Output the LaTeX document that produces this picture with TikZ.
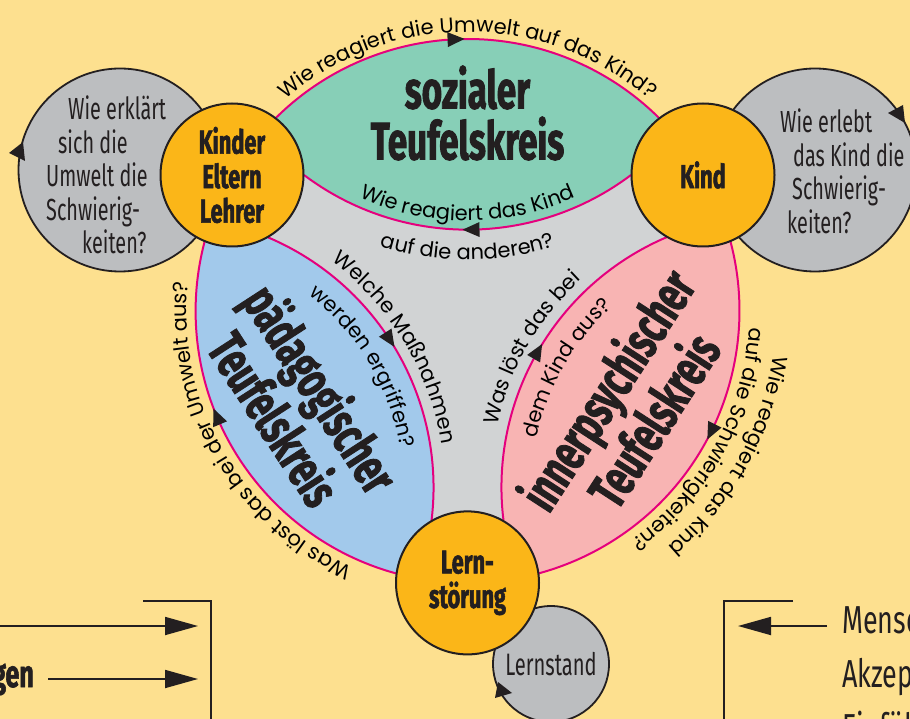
\documentclass[tikz,border=0pt]{standalone}
\usepackage{fontspec}
\usepackage{tikz}
\usetikzlibrary{arrows.meta, positioning, calc, decorations.text, decorations.markings}
\usepackage{xcolor}
\definecolor{paper}{HTML}{FDE08F}
\definecolor{socialgreen}{HTML}{87CFB7}
\definecolor{paedblue}{HTML}{A2C9EB}
\definecolor{psychpink}{HTML}{F8B4B3}
\definecolor{coregray}{HTML}{D1D3D4}
\definecolor{loopgray}{HTML}{BCBEC0}
\definecolor{huborange}{HTML}{FBB618}
\definecolor{rimmagenta}{HTML}{E5007D}
\definecolor{ink}{HTML}{231F20}

\newfontfamily\condfont{Fira Sans}[FakeStretch=0.69]
\newfontfamily\ringfont{Fira Sans}[FakeStretch=0.65]
\newfontfamily\heavyfont{Fira Sans}[FakeStretch=0.66, BoldFeatures={FakeBold=1.6}]
\newfontfamily\arcfont{Poppins}
\newcommand\arctxt{\arcfont\fontsize{21}{24}\selectfont}
\def\lensR{271.9}

\tikzset{
  hub/.style={circle, draw=ink, line width=2pt, fill=huborange, minimum size=143pt,
    inner sep=0pt, align=center, text=ink, font=\heavyfont\bfseries\fontsize{33}{34.5}\selectfont},
  sidering/.style={circle, draw=ink, line width=1.8pt, fill=loopgray, inner sep=0pt},
  ringtext/.style={inner sep=0pt, align=left, text=ink, font=\ringfont\fontsize{30.5}{33.5}\selectfont},
  bigtitle/.style={align=center, text=ink, inner sep=0pt, font=\heavyfont\bfseries\fontsize{53}{51}\selectfont},
  rim/.style={draw=rimmagenta, line width=2pt, postaction={decorate},
    decoration={markings, mark=at position #1 with {\fill[ink] (8.5pt,0pt) -- (-8.5pt,7.5pt) -- (-8.5pt,-7.5pt) -- cycle;}}},
  arctext/.style={decorate, decoration={text along path, text align=center, text={#1}}},
  sidetext/.style={inner xsep=15pt, inner ysep=0pt, text=ink, font=\condfont\fontsize{39}{54}\selectfont},
  bigarrow/.style={draw=ink, line width=1.8pt, -{Triangle[length=33pt,width=18pt]}},
  boxline/.style={draw=ink, line width=1.8pt},
}

\begin{document}
\begin{tikzpicture}[x=1pt, y=-1pt]
\fill[paper] (0,0) rectangle (910,719);
\useasboundingbox (0,0) rectangle (910,719);

\coordinate (C) at (467.5,311);
\coordinate (K1) at (232,175);
\coordinate (K2) at (703,175);
\coordinate (K3) at (467.5,582.9);
\coordinate (G1) at (304,175);
\coordinate (G2) at (631,175);
\coordinate (B1) at (268,237.35);
\coordinate (B2) at (431.5,520.55);
\coordinate (P1) at (667,237.35);
\coordinate (P2) at (503.5,520.55);
\coordinate (Gc) at (467.5,-42.3);
\coordinate (Bc) at (161.6,487.6);
\coordinate (Pc) at (773.4,487.6);

\fill[coregray] (K1) -- (K2) -- (K3) -- cycle;

\fill[socialgreen] (K1) arc[start angle=210, end angle=330, radius=\lensR] -- (G2)
  arc[start angle=53.03, end angle=126.97, radius=\lensR] -- cycle;
\fill[paedblue] (K3) arc[start angle=90, end angle=210, radius=\lensR] -- (B1)
  arc[start angle=-66.97, end angle=7.03, radius=\lensR] -- cycle;
\fill[psychpink] (K2) arc[start angle=-30, end angle=90, radius=\lensR] -- (P2)
  arc[start angle=172.97, end angle=247.03, radius=\lensR] -- cycle;

\draw[rim=0.48] (K1) arc[start angle=210, end angle=330, radius=\lensR];
\draw[rim=0.49] (G2) arc[start angle=53.03, end angle=126.97, radius=\lensR];
\draw[rim=0.46] (B1) arc[start angle=-66.97, end angle=7.03, radius=\lensR];
\draw[rim=0.56] (K3) arc[start angle=90, end angle=210, radius=\lensR];
\draw[rim=0.5] (P2) arc[start angle=172.97, end angle=247.03, radius=\lensR];
\draw[rim=0.47] (K2) arc[start angle=-30, end angle=90, radius=\lensR];

\path[arctext={|\arctxt|Wie reagiert die Umwelt auf das Kind?}]
  ($(C)+(200:279)$) arc[start angle=200, end angle=340, radius=279];
\path[arctext={|\arctxt|Wie reagiert das Kind}]
  ($(Gc)+(135:263)$) arc[start angle=135, end angle=45, radius=263];
\path[arctext={|\arctxt|auf die anderen?}]
  ($(Gc)+(135:302)$) arc[start angle=135, end angle=45, radius=302];
\path[arctext={|\arctxt|Welche Maßnahmen}]
  ($(Bc)+(-75:283)$) arc[start angle=-75, end angle=13, radius=283];
\path[arctext={|\arctxt|werden ergriffen?}]
  ($(Bc)+(-75:242)$) arc[start angle=-75, end angle=13, radius=242];
\path[arctext={|\arctxt|Was löst das bei}]
  ($(Pc)+(166:283)$) arc[start angle=166, end angle=254, radius=283];
\path[arctext={|\arctxt|dem Kind aus?}]
  ($(Pc)+(166:242)$) arc[start angle=166, end angle=254, radius=242];
\path[arctext={|\arctxt|Was löst das bei der Umwelt aus?}]
  ($(C)+(85:281)$) arc[start angle=85, end angle=215, radius=281];
\path[arctext={|\arctxt|auf die Schwierigkeiten?}]
  ($(C)+(-36:282)$) arc[start angle=-36, end angle=94, radius=282];
\path[arctext={|\arctxt|Wie reagiert das Kind}]
  ($(C)+(-36:309)$) arc[start angle=-36, end angle=94, radius=309];

\node[bigtitle] (sozial) at (467.5,113) {sozialer\\Teufelskreis};
\node[bigtitle, rotate=-57] (paed) at (299,403) {pädagogischer\\Teufelskreis};
\node[bigtitle, rotate=57] (psych) at (629,404) {innerpsychischer\\Teufelskreis};

\node[sidering, minimum size=203pt] (erklaer) at (120,170) {};
\node[sidering, minimum size=203pt] (erleb) at (815,170) {};
\node[sidering, minimum size=116pt, text=ink, font=\ringfont\fontsize{31}{34}\selectfont] (stand) at (551,664) {Lernstand};
\node[ringtext, anchor=north west] (erklaertext) at (46,96)
  {\hspace*{22pt}Wie erklärt\\\hspace*{12pt}sich die\\Umwelt die\\Schwierig-\\\hspace*{36pt}keiten?};
\node[ringtext, anchor=north west] (erlebtext) at (780,109)
  {Wie erlebt\\\hspace*{13pt}das Kind die\\\hspace*{12pt}Schwierig-\\\hspace*{7pt}keiten?};
\fill[ink] (9,153) -- (23,142) -- (25,161) -- cycle;
\fill[ink] (888,113) -- (903,105) -- (905,123) -- cycle;
\fill[ink] (495,698) -- (498,682) -- (512,693) -- cycle;

\node[hub] (kel) at (K1) {Kinder\\Eltern\\Lehrer};
\node[hub] (kind) at (K2) {Kind};
\node[hub] (lern) at (K3) {Lern-\\störung};

\coordinate (lbox) at (143,601);
\coordinate (lcorner) at (211,601);
\coordinate (lfoot) at (211,730);
\draw[boxline] (lbox) -- (lcorner) -- (lfoot);
\coordinate (lstart) at (-5,626);
\coordinate (ltipa) at (198,626);
\coordinate (ltipb) at (198,679);
\draw[bigarrow] (lstart) -- (ltipa);
\node[sidetext, font=\heavyfont\bfseries\fontsize{38}{54}\selectfont, anchor=base east, inner xsep=14pt] (gen) at (48,687) {gen};
\draw[bigarrow] (gen.east |- ltipb) -- (ltipb);

\coordinate (rbox) at (793,601);
\coordinate (rcorner) at (724,601);
\coordinate (rfoot) at (724,730);
\draw[boxline] (rbox) -- (rcorner) -- (rfoot);
\node[sidetext, anchor=base west] (mensc) at (827,633) {Mensc};
\node[sidetext, anchor=base west] (akzep) at (827,687) {Akzep};
\node[sidetext, anchor=base west] (einf) at (827,741) {Einfühl};
\coordinate (rtip) at (738,626);
\draw[bigarrow] (mensc.west |- rtip) -- (rtip);
\end{tikzpicture}
\end{document}
